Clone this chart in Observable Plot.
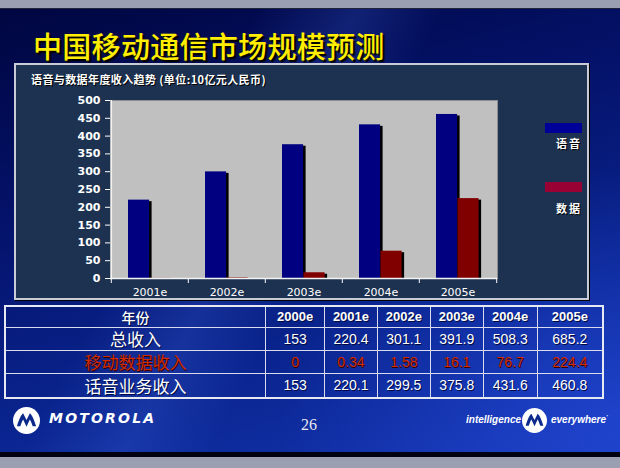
<!DOCTYPE html>
<html><head><meta charset="utf-8">
<script src="https://cdn.jsdelivr.net/npm/d3@7"></script>
<script src="https://cdn.jsdelivr.net/npm/@observablehq/plot@0.6"></script>
<style>
html,body{margin:0;padding:0;width:620px;height:468px;overflow:hidden;background:#9aa0b2;position:relative;}
.abs{position:absolute;}
#slide{left:0;top:8px;width:620px;height:443px;border-top:1px solid #20243a;border-bottom:5px solid #000010;
 background:
  linear-gradient(118deg, rgba(0,0,0,0) 30%, rgba(70,110,230,0.22) 42%, rgba(0,0,0,0) 52%),
  radial-gradient(ellipse 340px 260px at 620px 420px, rgba(40,80,230,0.55), rgba(0,0,0,0)),
  linear-gradient(165deg, #000640 0%, #04126a 35%, #0a2590 70%, #1535b0 100%);}
#title{left:33px;top:24px;font-family:"Noto Sans CJK SC";font-size:29px;font-weight:500;color:#ffee00;
 text-shadow:2px 2px 1px #000, 1px 1px 0 #6a5000;white-space:nowrap;letter-spacing:0.3px;}
#panel{left:14px;top:63px;width:571px;height:233px;background:#1c3250;border:2px solid #c9ccd6;box-shadow:1px 1px 0 #000;}
#sub{left:31px;top:71px;font-family:"Noto Sans CJK SC";font-size:11px;font-weight:700;color:#fff;white-space:nowrap;letter-spacing:0.4px;text-shadow:1px 1px 0 #000;}
#chart{left:15px;top:64px;}
.sw{width:37px;height:10px;}
.lg{font-family:"Noto Sans CJK SC";font-size:11px;font-weight:700;color:#fff;text-shadow:1px 1px 0 #000;letter-spacing:2px;}
table{position:absolute;left:4px;top:305px;width:600px;height:92px;border-collapse:collapse;border:2px solid #e6e8f2;}
td{border:1px solid #d8dcec;padding:0;text-align:center;color:#fff;font-family:"Liberation Sans";font-size:14px;text-shadow:1px 1px 0 #000a40;line-height:1;}
tr.h td{font-weight:700;font-size:13px;}
td.c{font-family:"Noto Sans CJK SC";font-size:17px;}
tr.h td.c{font-size:14px;font-weight:500;}
tr.red td{color:#d02a00;text-shadow:1px 1px 0 #300000;}
#moto{left:49px;top:410px;font-family:"DejaVu Sans";font-weight:900;font-style:italic;font-size:14px;color:#fff;letter-spacing:2.2px;}
#page{left:301px;top:416px;font-family:"Liberation Serif";font-size:16px;color:#e8e8ee;}
.it{font-family:"Liberation Sans";font-style:italic;font-weight:700;font-size:10px;color:#fff;top:414px;}
</style></head>
<body>
<div id="slide" class="abs"></div>
<div id="title" class="abs">中国移动通信市场规模预测</div>
<div id="panel" class="abs"></div>
<div id="sub" class="abs">语音与数据年度收入趋势 (单位:10亿元人民币)</div>
<div id="chart" class="abs"></div>
<div class="abs sw" style="left:545px;top:123px;background:#000099"></div>
<div class="abs lg" style="left:556px;top:135px">语音</div>
<div class="abs sw" style="left:545px;top:182px;background:#990033"></div>
<div class="abs lg" style="left:556px;top:200px">数据</div>
<div id="tbl"></div>
<svg class="abs" style="left:13px;top:407px" width="27" height="27" viewBox="0 0 24 24"><circle cx="12" cy="12" r="12" fill="#fff"/><path d="M3.5,17 C5,12 7,7 9,5.5 L12,11.5 L15,5.5 C17,7 19,12 20.5,17 L17.5,17 C16.5,14 15.8,12.3 15,11 L12,17.5 L9,11 C8.2,12.3 7.5,14 6.5,17 Z" fill="#0c2a8c"/></svg>
<div id="moto" class="abs">MOTOROLA</div>
<div id="page" class="abs">26</div>
<div class="abs it" style="left:466px">intelligence</div>
<svg class="abs" style="left:522px;top:408px" width="25" height="25" viewBox="0 0 24 24"><circle cx="12" cy="12" r="12" fill="#fff"/><path d="M3.5,17 C5,12 7,7 9,5.5 L12,11.5 L15,5.5 C17,7 19,12 20.5,17 L17.5,17 C16.5,14 15.8,12.3 15,11 L12,17.5 L9,11 C8.2,12.3 7.5,14 6.5,17 Z" fill="#0c2a8c"/></svg>
<div class="abs it" style="left:551px">everywhere<span style="font-size:6px;vertical-align:top">&#8217;</span></div>
<script>
// ---- data ----
const chartYears = ["2001e","2002e","2003e","2004e","2005e"];
const voiceValues = [220.1, 299.5, 375.8, 431.6, 460.8];
const dataValues = [0.34, 1.58, 16.1, 76.7, 224.4];
const yTicks = [0, 50, 100, 150, 200, 250, 300, 350, 400, 450, 500];

const tableHeader = "年份";
const tableYears = ["2000e","2001e","2002e","2003e","2004e","2005e"];
const rowLabels = ["总收入","移动数据收入","话音业务收入"];
const totalRevenue = [153, 220.4, 301.1, 391.9, 508.3, 685.2];
const dataRevenue = [0, 0.34, 1.58, 16.1, 76.7, 224.4];
const voiceRevenue = [153, 220.1, 299.5, 375.8, 431.6, 460.8];

// ---- chart ----
const voiceRows = chartYears.map((y, i) => ({year: y, value: voiceValues[i]}));
const dataRows = chartYears.map((y, i) => ({year: y, value: dataValues[i]}));
const W = 573, H = 236, mL = 95, mR = 91, mT = 36, mB = 22;
const step = (W - mL - mR) / chartYears.length;
const vIn = {insetLeft: 17, insetRight: step - 38.5};
const dIn = {insetLeft: 38.5, insetRight: step - 60};
const chart = Plot.plot({
  width: W, height: H, marginLeft: mL, marginRight: mR, marginTop: mT, marginBottom: mB,
  style: {background: "transparent", color: "#fff", fontFamily: "DejaVu Sans", fontSize: "11px", fontWeight: "bold"},
  x: {domain: chartYears, padding: 0, label: null},
  y: {domain: [0, 500], label: null},
  marks: [
    Plot.frame({fill: "#c0c0c0", stroke: "#8f8f8f"}),
    Plot.barY(voiceRows, {x: "year", y: "value", fill: "#000", dx: 2.5, dy: 1.5, clip: true, ...vIn}),
    Plot.barY(dataRows, {x: "year", y: "value", fill: "#000", dx: 2.5, dy: 1.5, clip: true, ...dIn}),
    Plot.barY(voiceRows, {x: "year", y: "value", fill: "#000080", ...vIn}),
    Plot.barY(dataRows, {x: "year", y: "value", fill: "#800000", ...dIn}),
    Plot.ruleY([0], {stroke: "#f2f2f2", strokeWidth: 1.5}),
    Plot.ruleX([chartYears[0]], {y1: 0, y2: 500, dx: -step / 2, stroke: "#f2f2f2", strokeWidth: 1.5}),
    Plot.ruleX(chartYears, {y1: 0, y2: 0, dx: -step / 2, insetBottom: -5, stroke: "#fff"}),
    Plot.ruleX([chartYears[chartYears.length - 1]], {y1: 0, y2: 0, dx: step / 2, insetBottom: -5, stroke: "#fff"}),
    Plot.axisY({ticks: yTicks, tickSize: 5, tickPadding: 5}),
    Plot.axisX({tickSize: 0, tickPadding: 10, fontWeight: "normal"})
  ]
});
document.getElementById("chart").appendChild(chart);

// ---- table ----
const colW = [262, 59, 53, 53, 53, 54, 66];
const rowH = [21, 23, 23, 25];
let html = "<table><colgroup>" + colW.map(w => `<col style="width:${w}px">`).join("") + "</colgroup>";
html += `<tr class="h" style="height:${rowH[0]}px"><td class="c">${tableHeader}</td>` + tableYears.map(y => `<td>${y}</td>`).join("") + "</tr>";
const rows = [totalRevenue, dataRevenue, voiceRevenue];
rows.forEach((r, k) => {
  html += `<tr class="${k === 1 ? "red" : ""}" style="height:${rowH[k + 1]}px"><td class="c">${rowLabels[k]}</td>` + r.map(v => `<td>${v}</td>`).join("") + "</tr>";
});
html += "</table>";
document.getElementById("tbl").innerHTML = html;
</script>
</body></html>
